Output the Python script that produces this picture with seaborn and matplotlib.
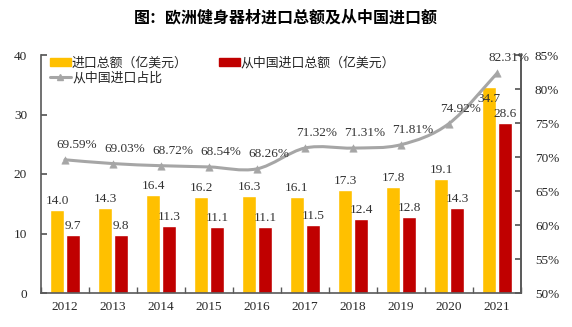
import numpy as np
import pandas as pd
import matplotlib
matplotlib.use("Agg")
import matplotlib.pyplot as plt
from matplotlib.path import Path
from matplotlib.patches import PathPatch, Patch
from matplotlib.lines import Line2D
import seaborn as sns

years = ["2012", "2013", "2014", "2015", "2016", "2017", "2018", "2019", "2020", "2021"]
total_import = [14.0, 14.3, 16.4, 16.2, 16.3, 16.1, 17.3, 17.8, 19.1, 34.7]
china_import = [9.7, 9.8, 11.3, 11.1, 11.1, 11.5, 12.4, 12.8, 14.3, 28.6]
china_share = [69.59, 69.03, 68.72, 68.54, 68.26, 71.32, 71.31, 71.81, 74.92, 82.31]

lab_total = "进口总额（亿美元）"
lab_china = "从中国进口总额（亿美元）"
lab_share = "从中国进口占比"
title = "图：欧洲健身器材进口总额及从中国进口额"

sns.set_theme(style="white")
plt.rcParams['font.family'] = ['Liberation Serif', 'Noto Sans CJK SC']

YEL = "#FFC000"
RED = "#C00000"
GRY = "#A6A6A6"
SPN = "#595959"

df = pd.DataFrame({
    "year": years * 2,
    "value": total_import + china_import,
    "series": [lab_total] * len(years) + [lab_china] * len(years),
})

fig = plt.figure(figsize=(5.72, 3.27), dpi=100)
ax = fig.add_axes([41/572, 1-293/327, 480/572, 238/327])

sns.barplot(data=df, x="year", y="value", hue="series", palette=[YEL, RED],
            width=0.667, gap=0.12, ax=ax, legend=False, saturation=1)

ax.set_ylim(0, 40)
ax.set_xlim(-0.5, len(years) - 0.5)
ax.set_yticks([0, 10, 20, 30, 40])
ax.set_xlabel("")
ax.set_ylabel("")
ax.spines["top"].set_visible(False)
for s in ["left", "bottom", "right"]:
    ax.spines[s].set_color(SPN)
    ax.spines[s].set_linewidth(1.2)
ax.tick_params(axis="y", direction="in", length=4, color=SPN, labelsize=9.5, pad=10, left=True)
ax.set_xticks(range(len(years)))
ax.set_xticklabels(years, fontsize=9.5)
ax.tick_params(axis="x", length=0, pad=6)
ax.set_xticks(np.arange(-0.5, len(years), 1.0), minor=True)
ax.tick_params(axis="x", which="minor", direction="in", length=4, color=SPN, bottom=True)

for i, (a, b) in enumerate(zip(total_import, china_import)):
    if i == len(years) - 1:
        ax.annotate(f"{a:.1f}", (i - 0.167, a), xytext=(0, -6), textcoords="offset pixels",
                    ha="center", va="top", fontsize=9.5, color="#333333")
    else:
        ax.annotate(f"{a:.1f}", (i - 0.167, a), xytext=(0, 3), textcoords="offset pixels",
                    ha="center", va="bottom", fontsize=9.5, color="#333333")
    ax.annotate(f"{b:.1f}", (i + 0.167, b), xytext=(0, 3), textcoords="offset pixels",
                ha="center", va="bottom", fontsize=9.5, color="#333333")

ax2 = ax.twinx()
ax2.set_position(ax.get_position())
ax2.set_ylim(50, 85)
ax2.set_yticks([50, 55, 60, 65, 70, 75, 80, 85])
ax2.set_yticklabels([f"{v}%" for v in [50, 55, 60, 65, 70, 75, 80, 85]])
ax2.tick_params(axis="y", direction="in", length=4, color=SPN, labelsize=9.5, pad=10, right=True)
for s in ["top", "left", "bottom"]:
    ax2.spines[s].set_visible(False)
ax2.spines["right"].set_color(SPN)
ax2.spines["right"].set_linewidth(1.2)
ax2.grid(False)
ax.grid(False)

xs = np.arange(len(years), dtype=float)
ys = np.array(china_share, dtype=float)
pts = np.column_stack([xs, ys])
verts = [tuple(pts[0])]
codes = [Path.MOVETO]
n = len(pts)
for i in range(n - 1):
    p0 = pts[i - 1] if i > 0 else pts[i]
    p1 = pts[i]
    p2 = pts[i + 1]
    p3 = pts[i + 2] if i + 2 < n else pts[i + 1]
    c1 = p1 + (p2 - p0) / 6.0
    c2 = p2 - (p3 - p1) / 6.0
    verts += [tuple(c1), tuple(c2), tuple(p2)]
    codes += [Path.CURVE4] * 3
ax2.add_patch(PathPatch(Path(verts, codes), facecolor="none", edgecolor=GRY, lw=2.2,
                        capstyle="round", joinstyle="round", zorder=3))
sns.scatterplot(x=xs, y=ys, marker="^", s=28, color=GRY, edgecolor=GRY, ax=ax2, zorder=4,
                legend=False)

for i, v in enumerate(china_share):
    ax2.annotate(f"{v:.2f}%", (xs[i], v), xytext=(12, 9), textcoords="offset pixels",
                 ha="center", va="bottom", fontsize=9.5, color="#333333")

handles = [Patch(color=YEL),
           Line2D([0], [0], color=GRY, lw=2.2, marker="^", markersize=5),
           Patch(color=RED)]
leg = ax2.legend(handles, [lab_total, lab_share, lab_china], ncol=2, loc="upper left",
                 bbox_to_anchor=(0.0, 1.03), frameon=False,
                 prop={"family": ["Noto Sans CJK SC"], "size": 9.3},
                 handlelength=1.6, handleheight=0.6, handletextpad=0.1,
                 columnspacing=2.4, labelspacing=0.1, borderaxespad=0.3)

fig.text(0.5, 1 - 17/327, title, ha="center", va="center", fontsize=11.5, fontweight="bold",
         family=["Noto Sans CJK SC"], color="#000000")

fig.savefig("out.png", dpi=100)
